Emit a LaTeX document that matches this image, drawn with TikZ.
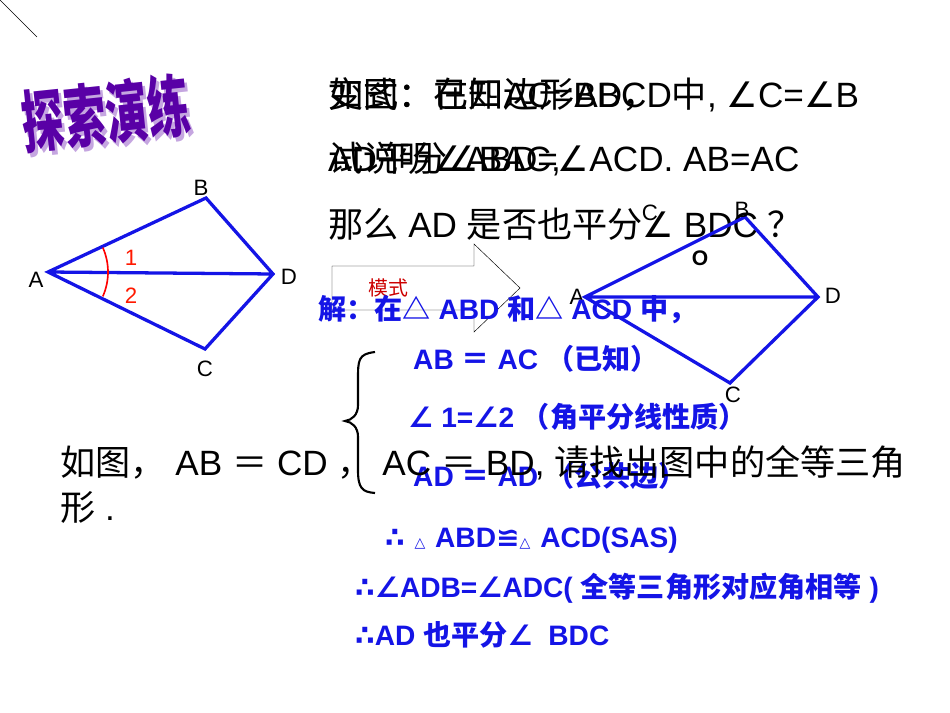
\documentclass[tikz,border=0pt]{standalone}
\usepackage{fontspec}
\usetikzlibrary{calc}
\setmainfont{Liberation Sans}
\newfontfamily\cjk{Noto Sans CJK SC}
\newfontfamily\dv{DejaVu Sans}
\newcommand\zh[1]{{\cjk #1}}
\newcommand\sy[1]{{\dv #1}}
\definecolor{bl}{RGB}{20,20,230}
\begin{document}
\begin{tikzpicture}[x=0.03cm,y=-0.03cm,
  big/.style={anchor=base west,inner sep=0,font=\fontsize{30}{34}\selectfont},
  bl/.style={anchor=base west,inner sep=0,text=bl,font=\bfseries\fontsize{24}{28}\selectfont},
  lab/.style={inner sep=0,font=\fontsize{19}{22}\selectfont},
  edge/.style={draw=bl,line width=2.8pt}]
\useasboundingbox (0,0) rectangle (950,713);
\draw (0,0) -- (37,37);
% title
\node[rotate=6,xscale=0.9,yscale=1.45,text=blue!30!violet!35!white,font=\cjk\bfseries\fontsize{40}{44}\selectfont] at (109,117) {探索演练};
\node[rotate=6,xscale=0.9,yscale=1.45,text=violet!70!blue,font=\cjk\bfseries\fontsize{40}{44}\selectfont] (title) at (106,113) {探索演练};
% left figure
\coordinate (A) at (48,272); \coordinate (B) at (206,198);
\coordinate (D) at (273,274); \coordinate (C) at (205,349);
\draw[edge,line join=miter] (A)--(B)--(D)--(C)--cycle (A)--(D);
\draw[red,line width=1.4pt] ($(A)+(-24:60)$) arc[start angle=-24,end angle=24,radius=60];
\node[lab] (la) at (36,280) {A}; \node[lab] (lb) at (201,188) {B};
\node[lab] (ld) at (289,277) {D}; \node[lab] (lc) at (205,369) {C};
\node[lab,text=red!80!orange] (l1) at (131,258) {1};
\node[lab,text=red!80!orange] (l2) at (131,296) {2};
% top text
\node[big] (t1a) at (328,108) {\zh{变式：在四边形}ABCD\zh{中}, \sy{∠}C=\sy{∠}B};
\node[big] (t1b) at (328,108) {\zh{如图：已知}AC=BD\zh{，}};
\node[big] (t2a) at (328,172) {AD\zh{平分}\sy{∠}BAC,};
\node[big] (t2b) at (328,172) {\zh{试说明}\sy{∠}ABD=\sy{∠}ACD. AB=AC};
\node[big] (t3) at (328,238) {\zh{那么} AD \zh{是否也平分}\sy{∠} BDC \zh{？}};
% arrow
\draw (332,266) -- (474,266) -- (474,244) -- (520,288) -- (474,332) -- (474,310) -- (332,310) -- cycle;
\node[text=red!80!black,font=\cjk\fontsize{17}{20}\selectfont] (mode) at (388,288) {模式};
% right figure
\coordinate (A2) at (585,297); \coordinate (B2) at (745,217);
\coordinate (D2) at (818,297); \coordinate (C2) at (730,383);
\draw[edge,line join=miter] (A2)--(B2)--(D2)--(C2)--cycle (A2)--(D2);
\node[lab] (ra) at (577,297) {A}; \node[lab] (rb) at (742,210) {B};
\node[lab] (rc1) at (650,213) {C}; \node[lab,font=\bfseries\fontsize{18}{20}\selectfont] (ro) at (700,258) {O};
\node[lab] (rd) at (833,296) {D}; \node[lab] (rc2) at (733,395) {C};
% solution
\node[bl] (s0) at (318,320) {\zh{解：在△} ABD \zh{和△} ACD \zh{中，}};
\draw[bl,line width=1.8pt] (375,352) .. controls (358,354) and (358,360) .. (358,380) -- (358,405) .. controls (358,415) and (352,420) .. (345,421) .. controls (352,422) and (358,427) .. (358,437) -- (358,470) .. controls (358,488) and (362,492) .. (375,493);
\node[bl] (s1) at (413,370) {AB \zh{＝} AC \zh{（已知）}};
\node[bl] (s2) at (408,428) {\sy{∠} 1=\sy{∠}2 \zh{（角平分线性质）}};
\node[bl] (s3) at (413,487) {AD \zh{＝} AD \zh{（公共边）}};
\node[big] (q1) at (60,475) {\zh{如图，} AB \zh{＝} CD \zh{，} AC \zh{＝} BD, \zh{请找出图中的全等三角}};
\node[big] (q2) at (60,520) {\zh{形} .};
\node[bl] (s4) at (385,547) {\sy{∴ {\fontsize{12}{14}\selectfont △} }ABD\sy{≌{\fontsize{12}{14}\selectfont △} }ACD(SAS)};
\node[bl] (s5) at (355,597) {\sy{∴∠}ADB=\sy{∠}ADC( \zh{全等三角形对应角相等} )};
\node[bl] (s6) at (355,645) {\sy{∴}AD \zh{也平分}\sy{∠}\ \ BDC};
\end{tikzpicture}
\end{document}
